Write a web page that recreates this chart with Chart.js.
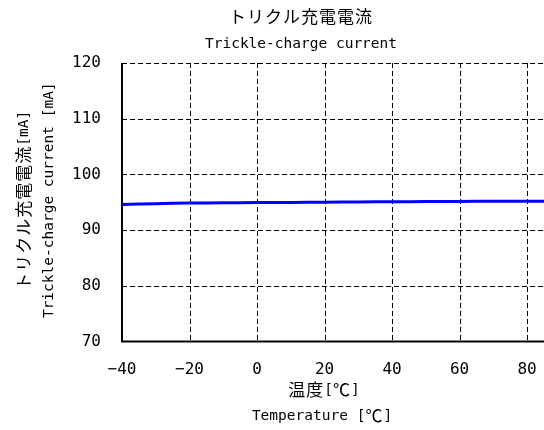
<!DOCTYPE html>
<html>
<head>
<meta charset="utf-8">
<script src="https://cdn.jsdelivr.net/npm/chart.js@4/dist/chart.umd.min.js"></script>
<style>
  html, body { margin: 0; padding: 0; background: #fff; }
</style>
</head>
<body>
<canvas id="canvas" width="544" height="430"></canvas>
<script>
// temperature [°C] and trickle-charge current [mA]
var temps = [-40, -30, -20, -10, 0, 10, 20, 30, 40, 50, 60, 70, 80, 85];
var current = [94.6, 94.75, 94.85, 94.9, 94.95, 94.97, 95.0, 95.05, 95.1, 95.12, 95.15, 95.18, 95.2, 95.2];
var xTicks = [-40, -20, 0, 20, 40, 60, 80];
var yTicks = [70, 80, 90, 100, 110, 120];

var titleJa = "トリクル充電電流";
var titleEn = "Trickle-charge current";
var xTitle = ["温度[℃]", "Temperature [℃]"];
var yTitle = ["トリクル充電電流[mA]", "Trickle-charge current [mA]"];

var latinFont = "14.5px 'DejaVu Sans Mono'";
var cjkFont = "17px 'Noto Sans CJK JP'";

// split text into latin / CJK runs so each gets its own font
function mixedRuns(ctx, text) {
  var runs = [];
  for (var i = 0; i < text.length; i++) {
    var cjk = text.charCodeAt(i) > 0x2000;
    var last = runs[runs.length - 1];
    if (last && last.cjk === cjk) last.s += text[i];
    else runs.push({ s: text[i], cjk: cjk });
  }
  var total = 0;
  runs.forEach(function(r) {
    ctx.font = r.cjk ? cjkFont : latinFont;
    ctx.letterSpacing = r.cjk ? "1px" : "0px";
    r.w = ctx.measureText(r.s).width;
    total += r.w;
  });
  return { runs: runs, width: total };
}

function drawMixed(ctx, text, cx, cy, rotate) {
  ctx.save();
  ctx.translate(cx, cy);
  if (rotate) ctx.rotate(-Math.PI / 2);
  ctx.fillStyle = "#000";
  ctx.textBaseline = "middle";
  ctx.textAlign = "left";
  var m = mixedRuns(ctx, text);
  var x = -m.width / 2;
  m.runs.forEach(function(r) {
    ctx.font = r.cjk ? cjkFont : latinFont;
    ctx.letterSpacing = r.cjk ? "1px" : "0px";
    ctx.fillText(r.s, x, 0);
    x += r.w;
  });
  ctx.restore();
}

var points = temps.map(function(t, i) { return { x: t, y: current[i] }; });

function minusLabel(v) {
  return v < 0 ? "\u2212" + Math.abs(v) : String(v);
}

var tickFont = { family: "'DejaVu Sans Mono'", size: 16 };

var config = {
  type: "line",
  data: {
    datasets: [
      {
        label: titleEn,
        data: points,
        borderColor: "#0000ff",
        borderWidth: 3,
        pointRadius: 0,
        tension: 0.4,
        fill: false
      }
    ]
  },
  options: {
    responsive: false,
    animation: false,
    layout: { padding: { left: 0, right: 0, top: 63, bottom: 0 } },
    plugins: {
      legend: { display: false },
      tooltip: { enabled: false }
    },
    scales: {
      x: {
        type: "linear",
        min: -40,
        max: 85,
        afterBuildTicks: function(axis) {
          axis.ticks = xTicks.map(function(v) { return { value: v }; });
        },
        afterFit: function(axis) {
          axis.height = 88.5;
          axis.paddingLeft = 0;
          axis.paddingRight = 0;
        },
        ticks: {
          color: "#000",
          font: tickFont,
          padding: 19,
          maxRotation: 0,
          callback: minusLabel
        },
        grid: { display: false, drawTicks: false },
        border: { display: false }
      },
      y: {
        type: "linear",
        min: 70,
        max: 120,
        afterBuildTicks: function(axis) {
          axis.ticks = yTicks.map(function(v) { return { value: v }; });
        },
        afterFit: function(axis) {
          axis.width = 122;
          axis.paddingTop = 0;
          axis.paddingBottom = 0;
        },
        ticks: {
          color: "#000",
          font: tickFont,
          padding: 21,
          callback: minusLabel
        },
        grid: { display: false, drawTicks: false },
        border: { display: false }
      }
    }
  },
  plugins: [{
    id: "dashedGridAndTitles",
    beforeDatasetsDraw: function(chart) {
      var a = chart.chartArea, c = chart.ctx;
      var xs = chart.scales.x, ys = chart.scales.y;
      c.save();
      c.strokeStyle = "#000";
      c.lineWidth = 1;
      c.setLineDash([5, 3]);
      xTicks.forEach(function(v) {
        if (v === xs.min) return;
        var px = Math.round(xs.getPixelForValue(v)) + 0.5;
        c.beginPath(); c.moveTo(px, a.top); c.lineTo(px, a.bottom); c.stroke();
      });
      yTicks.forEach(function(v) {
        if (v === ys.min) return;
        var py = Math.round(ys.getPixelForValue(v)) + 0.5;
        c.beginPath(); c.moveTo(a.left, py); c.lineTo(a.right, py); c.stroke();
      });
      c.setLineDash([]);
      c.lineWidth = 2;
      c.beginPath();
      c.moveTo(a.left, a.top);
      c.lineTo(a.left, a.bottom);
      c.lineTo(a.right, a.bottom);
      c.stroke();
      c.restore();
    },
    afterDraw: function(chart) {
      var c = chart.ctx;
      var a = chart.chartArea;
      drawMixed(c, titleJa, 301, 17, false);
      drawMixed(c, titleEn, 301, 44, false);
      drawMixed(c, xTitle[0], 324, 390, false);
      drawMixed(c, xTitle[1], 322, 416, false);
      var midY = (a.top + a.bottom) / 2 - 2;
      drawMixed(c, yTitle[0], 24, midY, true);
      drawMixed(c, yTitle[1], 49, midY, true);
    }
  }]
};

window.onload = function() {
  var ctx = document.getElementById("canvas").getContext("2d");
  window.myLine = new Chart(ctx, config);
};
</script>
</body>
</html>
